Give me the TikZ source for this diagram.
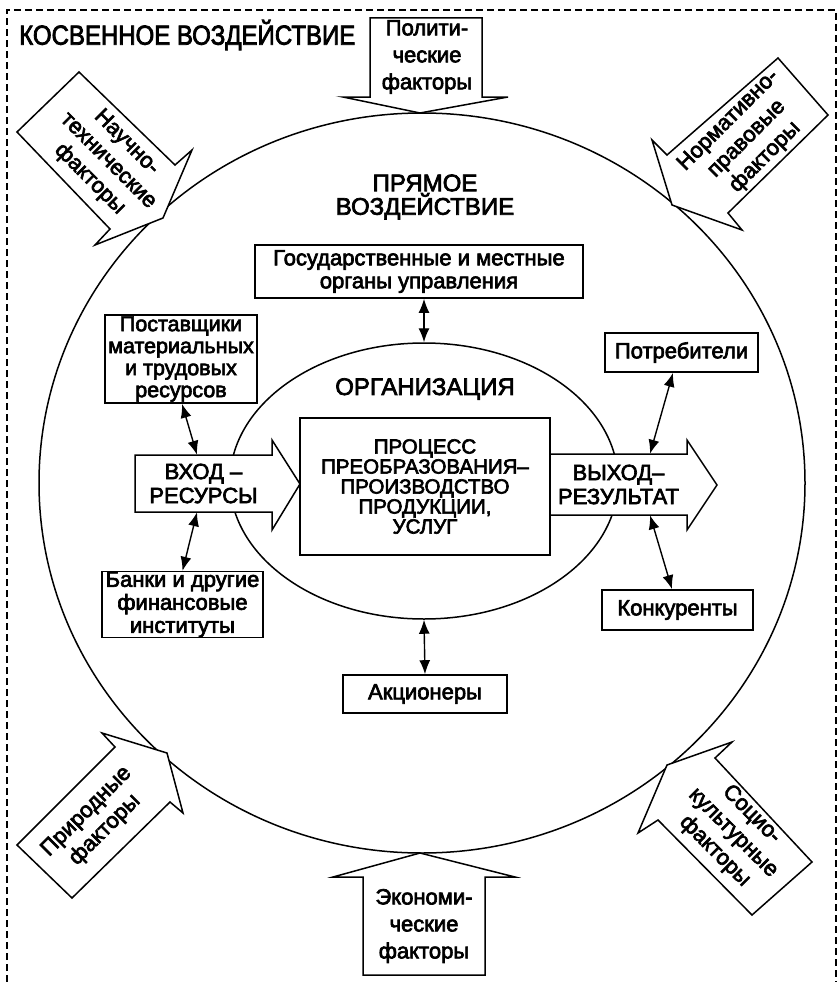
\documentclass[tikz,border=0pt]{standalone}
\usepackage{fontspec}
\setmainfont{Liberation Sans}[FakeBold=3]
\usetikzlibrary{shapes.geometric,arrows.meta,calc}
\begin{document}
\begin{tikzpicture}[x=1pt,y=-1pt,
  box/.style={draw, line width=1.6pt, fill=white, align=center, inner sep=0pt,
    font=\fontsize{22}{23}\selectfont},
  dbl/.style={{Latex[length=14pt,width=11pt]}-{Latex[length=14pt,width=11pt]}, line width=1.4pt},
  blk/.style={draw, line width=1.5pt, fill=white, line join=miter},
  ring/.style={draw, ellipse, line width=1.5pt, inner sep=0pt},
  flbl/.style={align=center, inner sep=0pt, font=\fontsize{22}{27}\selectfont},
  dlbl/.style={align=center, inner sep=0pt, font=\fontsize{22}{26}\selectfont},
  albl/.style={align=center, inner sep=0pt, font=\fontsize{22}{24}\selectfont},
  big/.style={align=center, inner sep=0pt, font=\fontsize{24}{23.5}\selectfont}
]
\useasboundingbox (0,0) rectangle (838,982);
% dashed frame (bottom edge cut off)
\draw[line width=1.4pt, dash pattern=on 7pt off 4pt] (7,982) -- (7,10) -- (836,10) -- (836,982);

% rings
\node[ring, minimum width=766, minimum height=740] (env) at (422,483) {};
\node[ring, minimum width=388, minimum height=276] (org) at (424,481) {};

% headings
\node[big, anchor=west] (kos) at (19,35) {\scalebox{1}[1.15]{КОСВЕННОЕ ВОЗДЕЙСТВИЕ}};
\node[big] (pryam) at (425,197) {ПРЯМОЕ\\ВОЗДЕЙСТВИЕ};
\node[big] (orgt) at (425,389) {ОРГАНИЗАЦИЯ};

% factor block arrows
\draw[blk] (370,18) -- (482,18) -- (482,97) -- (508,97) -- (420,113) -- (343,97) -- (370,97) -- cycle;
\node[flbl] (pol) at (427,57) {Полити-\\ческие\\факторы};
\draw[blk] (363,975) -- (485,975) -- (485,877) -- (515,877) -- (420,853) -- (333,877) -- (363,877) -- cycle;
\node[flbl] (eko) at (424,926) {Экономи-\\ческие\\факторы};
\draw[blk] (79,72) -- (175,165) -- (192,150) -- (163,218) -- (95,245) -- (110,229) -- (17,132) -- cycle;
\node[dlbl, rotate=-45] (nauch) at (108,161) {Научно-\\технические\\факторы};
\draw[blk] (778,58) -- (828,115) -- (728,213) -- (742,230) -- (672,205) -- (652,140) -- (667,155) -- cycle;
\node[dlbl, rotate=45] (norm) at (747,139) {Нормативно-\\правовые\\факторы};
\draw[blk] (17,845) -- (115,747) -- (102,733) -- (167,753) -- (183,813) -- (170,802) -- (72,898) -- cycle;
\node[dlbl, rotate=45] (prir) at (96,821) {Природные\\факторы};
\draw[blk] (812,862) -- (715,758) -- (732,742) -- (667,765) -- (638,833) -- (658,820) -- (752,915) -- cycle;
\node[dlbl, rotate=-45] (soc) at (733,833) {Социо-\\культурные\\факторы};

% input / output arrows
\draw[blk] (135,455) -- (272,455) -- (272,440) -- (300,484) -- (272,530) -- (272,512) -- (135,512) -- cycle;
\node[albl, minimum width=137, minimum height=57] (vhod) at (203.5,483.5) {ВХОД –\\РЕСУРСЫ};
\draw[blk] (550,454) -- (687,454) -- (687,440) -- (717,485) -- (687,530) -- (687,515) -- (550,515) -- cycle;
\node[albl, minimum width=137, minimum height=61] (vyhod) at (618.5,484.5) {ВЫХОД–\\РЕЗУЛЬТАТ};

% boxes
\node[box, minimum width=250, minimum height=137, font=\fontsize{20.5}{20}\selectfont] (proc) at (425,486.5)
  {ПРОЦЕСС\\ПРЕОБРАЗОВАНИЯ–\\ПРОИЗВОДСТВО\\ПРОДУКЦИИ,\\УСЛУГ};
\node[box, minimum width=328, minimum height=53] (gos) at (419,271.5) {Государственные и местные\\органы управления};
\node[box, minimum width=152, minimum height=88, font=\fontsize{21.5}{22}\selectfont] (post) at (181,359) {Поставщики\\материальных\\и трудовых\\ресурсов};
\node[box, minimum width=161, minimum height=55] (bank) at (182.5,604.5) {Банки и другие\\финансовые\\институты};
\node[box, minimum width=153, minimum height=39] (potr) at (681.5,352.5) {Потребители};
\node[box, minimum width=151, minimum height=40] (konk) at (677.5,610) {Конкуренты};
\node[box, minimum width=164, minimum height=38] (akc) at (425,694) {Акционеры};

% connectors
\draw[dbl] ([xshift=5pt]gos.south) -- (org.north);
\draw[dbl] (org.south) -- (akc.north);
\draw[dbl] ([xshift=1pt]post.south) -- ([xshift=-6.5pt]vhod.north);
\draw[dbl] ([xshift=-6.5pt]vhod.south) -- (bank.north);
\draw[dbl] ([xshift=-8.5pt]potr.south) -- ([xshift=31.5pt]vyhod.north);
\draw[dbl] ([xshift=31.5pt]vyhod.south) -- ([xshift=-5.5pt]konk.north);
\end{tikzpicture}
\end{document}
